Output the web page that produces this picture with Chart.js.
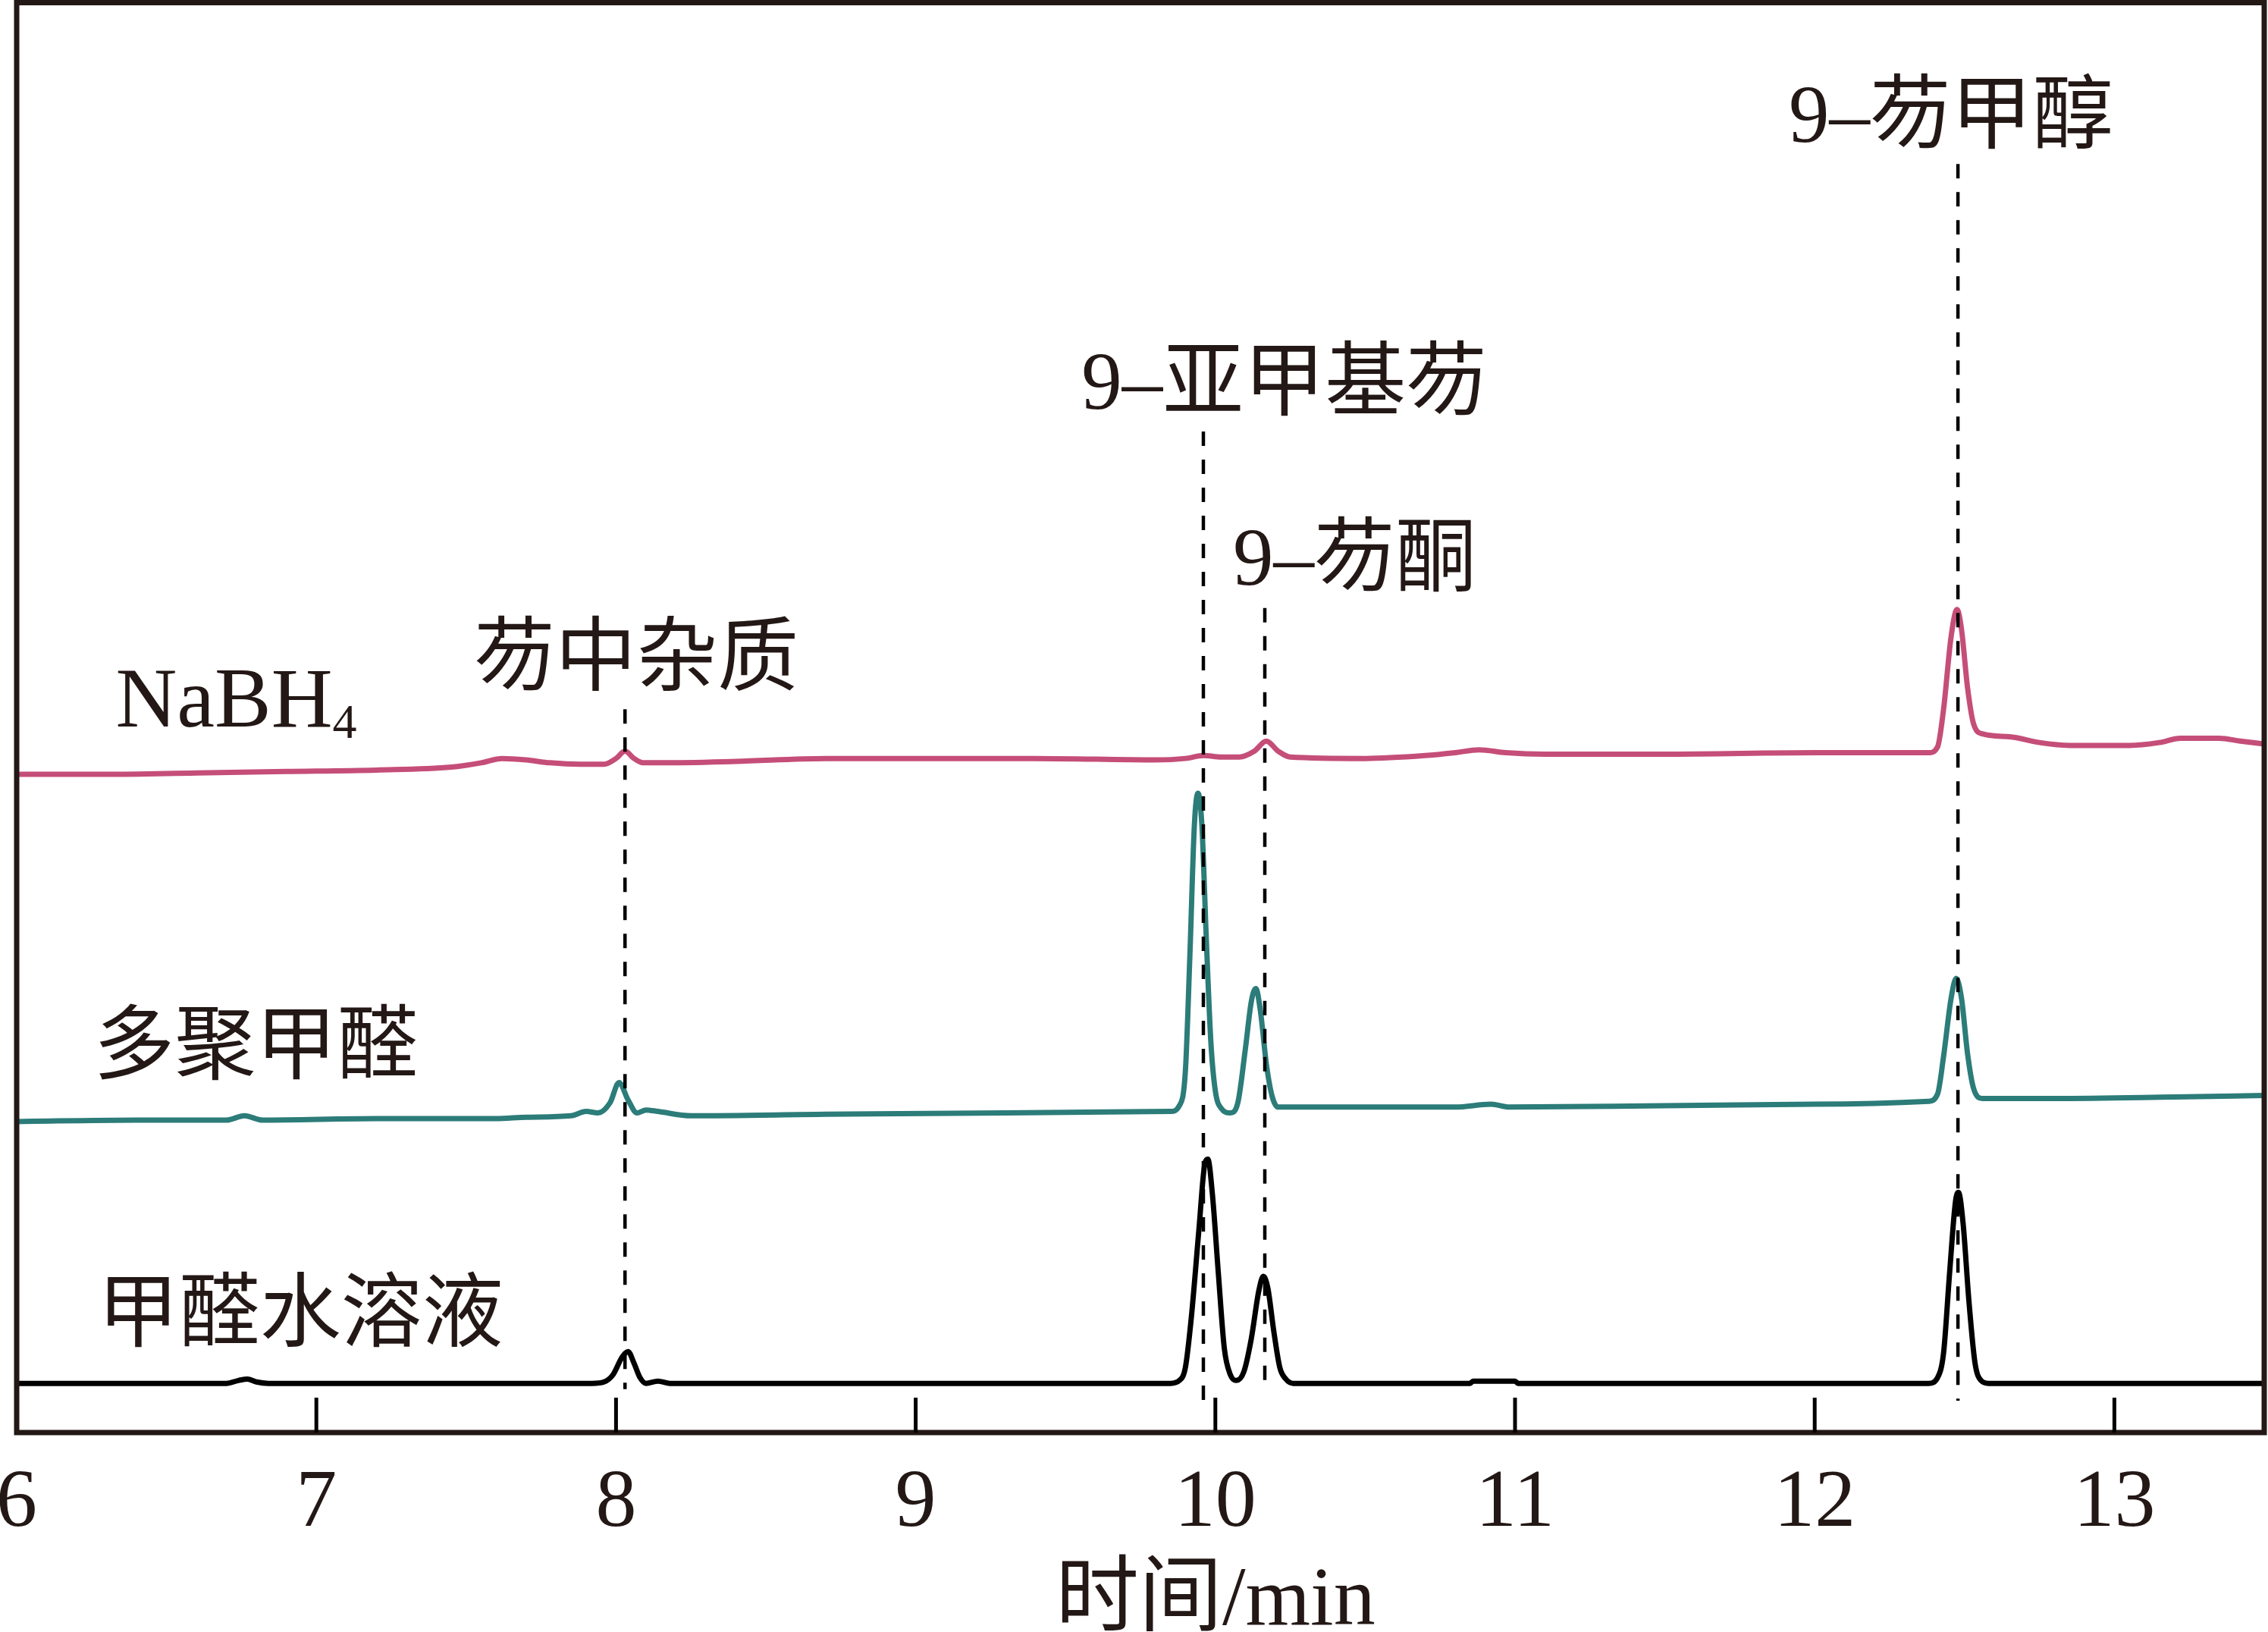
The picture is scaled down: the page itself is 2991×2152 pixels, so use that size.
<!DOCTYPE html>
<html><head><meta charset="utf-8">
<script src="https://cdn.jsdelivr.net/npm/chart.js@4.4.1/dist/chart.umd.min.js"></script>
<style>html,body{margin:0;padding:0;background:#fff;}#wrap{width:2991px;height:2152px;position:relative;}</style>
</head><body><div id="wrap"><canvas id="c"></canvas></div>
<script>
// x axis
const xTickValues = [6, 7, 8, 9, 10, 11, 12, 13];
const xTickLabels = ['6', '7', '8', '9', '10', '11', '12', '13'];
const xTitle = '时间/min';

// series names
const seriesNames = ['NaBH', '多聚甲醛', '甲醛水溶液'];
const nabhSub = '4';

// peak names and retention times
const peakNames = ['芴中杂质', '9–亚甲基芴', '9–芴酮', '9–芴甲醇'];
const peakTimes = [8.03, 9.96, 10.165, 12.478];
const peakLineTop = [500, 692, 570, 877];
const peakLineBottom = [30, 15, 31, 22];

// [time (min), signal] pairs
const traceNaBH4 = [
 [6.00,455],[6.30,455],[6.60,456],[6.90,457],[7.20,458],[7.45,460],[7.55,463],[7.62,466],[7.70,465],
 [7.78,463],[7.88,462],[7.96,462],[8.00,466],[8.03,471],[8.06,466],[8.09,463],[8.15,463],[8.40,464],
 [8.70,466],[9.00,466],[9.40,466],[9.80,465],[9.90,466],[9.96,468],[10.02,467],[10.08,467],[10.13,471],
 [10.17,478],[10.21,471],[10.25,467],[10.50,466],[10.70,468],[10.80,470],[10.88,472],[10.97,470],
 [11.10,469],[11.50,469],[12.00,470],[12.38,470],[12.41,474],[12.43,500],[12.455,550],[12.475,569],
 [12.49,555],[12.51,515],[12.53,490],[12.56,483],[12.65,481],[12.75,477],[12.85,475],[13.05,475],
 [13.15,477],[13.22,480],[13.35,480],[13.42,478],[13.50,476]
];
const tracePoly = [
 [6.00,215],[6.40,216],[6.70,216],[6.76,219],[6.82,216],[7.20,217],[7.60,217],[7.70,218],[7.85,219],
 [7.90,222],[7.94,221],[7.98,228],[8.01,242],[8.04,230],[8.07,221],[8.10,223],[8.14,222],[8.25,219],
 [8.70,220],[9.30,221],[9.85,222],[9.88,226],[9.90,250],[9.915,330],[9.93,420],[9.942,442],[9.955,420],
 [9.97,340],[9.985,270],[10.00,236],[10.02,224],[10.05,221],[10.075,228],[10.10,265],[10.12,298],
 [10.135,307],[10.15,292],[10.17,255],[10.19,232],[10.21,225],[10.40,225],[10.80,225],[10.92,227],
 [10.98,225],[11.50,226],[12.00,227],[12.38,229],[12.41,234],[12.43,260],[12.455,300],[12.472,314],
 [12.49,300],[12.51,262],[12.53,238],[12.56,231],[12.80,231],[13.20,232],[13.50,233]
];
const traceAqueous = [
 [6.00,34],[6.70,34],[6.74,36],[6.77,37],[6.80,35],[6.84,34],[7.92,34],[7.96,35],[7.99,40],[8.02,52],
 [8.04,56],[8.06,48],[8.08,38],[8.10,34],[8.14,35.5],[8.18,34],[9.85,34],[9.88,36],[9.90,45],[9.92,80],
 [9.945,140],[9.965,186],[9.975,189],[9.99,165],[10.01,110],[10.03,58],[10.05,40],[10.07,36],[10.095,42],
 [10.12,65],[10.145,98],[10.16,108],[10.175,100],[10.195,70],[10.215,45],[10.235,37],[10.26,34],
 [10.85,34],[10.86,35.5],[11.00,35.5],[11.01,34],[12.38,34],[12.41,38],[12.43,55],[12.45,110],[12.47,160],
 [12.48,166],[12.495,145],[12.515,90],[12.535,48],[12.555,36],[12.58,34],[13.50,34]
];

const toPts = arr => arr.map(p => ({x: p[0], y: p[1]}));
const INK = '#231815';
const FONT_MIX = "'Liberation Serif', 'Noto Sans CJK SC', serif";

const traceStyle = (data, color) => ({
  data: toPts(data), borderColor: color, borderWidth: 7, pointRadius: 0,
  cubicInterpolationMode: 'monotone', borderJoinStyle: 'round', borderCapStyle: 'round', fill: false, order: 2
});

const datasets = [
  traceStyle(traceNaBH4, '#c54e78'),
  traceStyle(tracePoly, '#2c7c79'),
  traceStyle(traceAqueous, '#000000')
];
peakTimes.forEach((t, i) => {
  datasets.push({
    data: [{x: t, y: peakLineTop[i]}, {x: t, y: peakLineBottom[i]}],
    borderColor: '#000', borderWidth: 4.5, borderDash: [19, 18], pointRadius: 0, fill: false, order: 0
  });
});

// label placement (data coordinates)
const peakLabelPos = [[8.068, 517.7], [10.23, 708], [10.465, 586], [12.455, 892.5]];
const seriesLabelPos = [[6.33, 488], [6.256, 249], [6.27, 63.7]];

const decor = {
  id: 'decor',
  afterDatasetsDraw(chart) {
    const {ctx, chartArea: a, scales: {x, y}} = chart;
    ctx.save();
    ctx.strokeStyle = INK; ctx.lineWidth = 7;
    ctx.strokeRect(a.left, a.top, a.right - a.left, a.bottom - a.top);
    ctx.lineWidth = 5; ctx.strokeStyle = '#000';
    x.ticks.forEach(t => {
      const px = x.getPixelForValue(t.value);
      if (px <= a.left + 2 || px >= a.right - 2) return;
      ctx.beginPath(); ctx.moveTo(px, a.bottom); ctx.lineTo(px, a.bottom - 46); ctx.stroke();
    });
    ctx.fillStyle = INK;
    ctx.textBaseline = 'alphabetic';
    ctx.font = `107px ${FONT_MIX}`;
    ctx.textAlign = 'center';
    peakNames.forEach((s, i) => {
      ctx.fillText(s, x.getPixelForValue(peakLabelPos[i][0]), y.getPixelForValue(peakLabelPos[i][1]));
    });
    ctx.textAlign = 'left';
    seriesNames.forEach((s, i) => {
      const px = x.getPixelForValue(seriesLabelPos[i][0]);
      const py = y.getPixelForValue(seriesLabelPos[i][1]);
      if (i === 0) {
        ctx.font = "112px 'Liberation Serif', serif";
        ctx.fillText(s, px, py);
        const w = ctx.measureText(s).width;
        ctx.font = "64px 'Liberation Serif', serif";
        ctx.fillText(nabhSub, px + w, py + 15);
      } else {
        ctx.font = `107px ${FONT_MIX}`;
        ctx.fillText(s, px, py);
      }
    });
    ctx.font = `110px ${FONT_MIX}`;
    ctx.textAlign = 'center';
    ctx.fillText(xTitle, x.getPixelForValue(10), a.bottom + 253);
    ctx.restore();
  }
};

new Chart(document.getElementById('c'), {
  type: 'line',
  data: {datasets},
  options: {
    responsive: true, maintainAspectRatio: false, devicePixelRatio: 1, animation: false,
    layout: {padding: {left: 22, right: 5, top: 3.5, bottom: 0}},
    plugins: {legend: {display: false}, tooltip: {enabled: false}},
    elements: {line: {tension: 0}},
    scales: {
      x: {
        type: 'linear', min: 6, max: 13.5,
        afterBuildTicks: s => { s.ticks = xTickValues.map(v => ({value: v})); },
        afterFit: s => { s.height = 263; s.paddingLeft = 0; s.paddingRight = 0; },
        grid: {display: false, drawTicks: false},
        border: {display: false},
        ticks: {
          autoSkip: false, maxRotation: 0, minRotation: 0, padding: 41, color: INK,
          font: {family: "'Liberation Serif', serif", size: 108, lineHeight: 1},
          callback: (v) => xTickLabels[xTickValues.indexOf(v)]
        }
      },
      y: {type: 'linear', min: 0, max: 988.5, display: false}
    }
  },
  plugins: [decor]
});
</script></body></html>
